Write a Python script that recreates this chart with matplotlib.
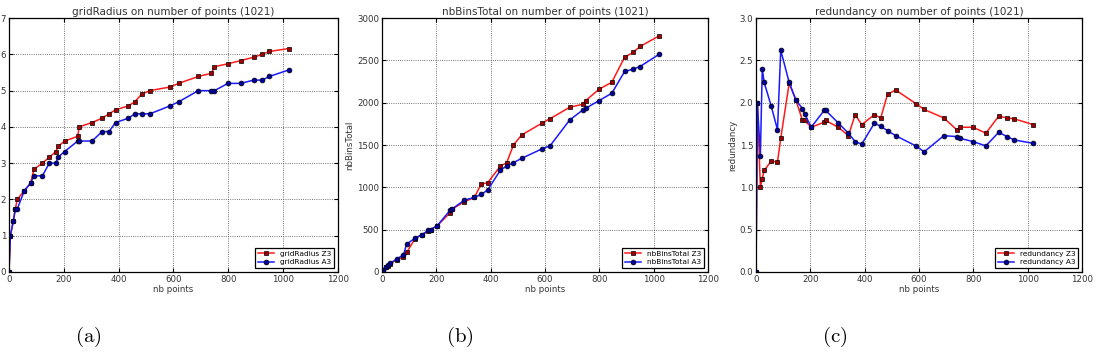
import matplotlib
matplotlib.use("Agg")
import matplotlib.pyplot as plt

plt.rcParams['mathtext.fontset'] = 'cm'

# number of points (shared by every series)
nb_points = [0, 5, 16, 23, 30, 56, 79, 91, 122, 147, 171, 179, 203, 251, 256, 303, 340,
             365, 389, 436, 459, 484, 514, 588, 619, 691, 739, 750, 799, 846, 893, 924, 950, 1021]

grid_radius_z3 = [0, 1.0, 1.41, 1.73, 2.0, 2.24, 2.45, 2.83, 3.0, 3.16, 3.32, 3.46, 3.61, 3.74,
                  4.0, 4.12, 4.24, 4.36, 4.47, 4.58, 4.69, 4.9, 5.0, 5.1, 5.2, 5.39, 5.48, 5.66,
                  5.74, 5.83, 5.92, 6.0, 6.08, 6.16]
grid_radius_a3 = [0, 1.0, 1.41, 1.73, 1.73, 2.24, 2.45, 2.65, 2.65, 3.0, 3.0, 3.16, 3.32, 3.61,
                  3.61, 3.61, 3.87, 3.87, 4.12, 4.24, 4.36, 4.36, 4.36, 4.58, 4.69, 5.0, 5.0, 5.0,
                  5.2, 5.2, 5.29, 5.29, 5.39, 5.57]

bins_z3 = [0, 20, 56, 75, 97, 146, 178, 230, 395, 440, 482, 501, 545, 700, 738, 830, 880, 1038,
           1054, 1251, 1291, 1500, 1618, 1757, 1812, 1946, 1982, 2025, 2159, 2242, 2538, 2594,
           2665, 2791]
bins_a3 = [0, 20, 56, 85, 100, 157, 200, 330, 399, 440, 493, 501, 545, 730, 738, 849, 880, 916,
           967, 1204, 1251, 1291, 1342, 1453, 1492, 1796, 1914, 1934, 2025, 2112, 2369, 2396,
           2428, 2574]

redund_z3 = [0, 2.0, 1.0, 1.1, 1.2, 1.31, 1.30, 1.58, 2.23, 2.03, 1.79, 1.79, 1.71, 1.77, 1.79,
             1.71, 1.61, 1.86, 1.74, 1.86, 1.82, 2.10, 2.15, 1.99, 1.92, 1.82, 1.68, 1.71, 1.71,
             1.64, 1.84, 1.82, 1.81, 1.74]
redund_a3 = [0, 2.0, 1.37, 2.4, 2.24, 1.96, 1.68, 2.62, 2.24, 2.03, 1.93, 1.87, 1.71, 1.91, 1.91,
             1.76, 1.64, 1.54, 1.51, 1.76, 1.72, 1.67, 1.61, 1.49, 1.42, 1.61, 1.60, 1.58, 1.54,
             1.49, 1.65, 1.60, 1.56, 1.52]

panels = [
    ("gridRadius", grid_radius_z3, grid_radius_a3, 7, range(0, 8), None, "(a)"),
    ("nbBinsTotal", bins_z3, bins_a3, 3000, range(0, 3001, 500), "nbBinsTotal", "(b)"),
    ("redundancy", redund_z3, redund_a3, 3.0, [0.0, 0.5, 1.0, 1.5, 2.0, 2.5, 3.0], "redundancy", "(c)"),
]

fig = plt.figure(figsize=(10.96, 3.55), dpi=100)
lefts = [0.0082, 0.3485, 0.6898]
widths = [0.300, 0.2975, 0.2975]

for (name, z3, a3, ymax, yt, ylab, cap), l, w in zip(panels, lefts, widths):
    ax = fig.add_axes([l, 0.234, w, 0.715])
    ax.plot(nb_points, z3, '-', color='#ff1a1a', lw=1.1, marker='s', ms=3.5,
            mfc='#a00000', mec='k', mew=0.5, label=name + " Z3")
    ax.plot(nb_points, a3, '-', color='#1a1aff', lw=1.1, marker='o', ms=3.5,
            mfc='#0000a0', mec='k', mew=0.5, label=name + " A3")
    ax.set_xlim(0, 1200)
    ax.set_ylim(0, ymax)
    ax.set_xticks(range(0, 1201, 200))
    ax.set_yticks(list(yt))
    if name == "redundancy":
        ax.set_yticklabels(["%.1f" % v for v in yt])
    ax.grid(True, color='#444444', linestyle=':', linewidth=0.6)
    ax.tick_params(direction='in', top=True, right=True, labelsize=6.2, length=3, pad=2,
                   labelcolor='#333333')
    for s in ax.spines.values():
        s.set_linewidth(0.9)
    ax.set_title(name + " on number of points (1021)", fontsize=7.5, pad=2, color='#333333')
    ax.set_xlabel("nb points", fontsize=6.2, labelpad=1, color='#333333')
    if ylab:
        ax.set_ylabel(ylab, fontsize=6.2, labelpad=2, color='#333333')
    leg = ax.legend(loc='lower right', fontsize=5.3, fancybox=False, framealpha=1,
                    handlelength=2.2, borderpad=0.4, labelspacing=0.3)
    leg.get_frame().set_edgecolor('k')
    leg.get_frame().set_linewidth(0.9)
    fig.text(l + w * 0.24, 0.05, r'$\mathrm{' + cap + '}$', fontsize=15, ha='center', va='center')

fig.savefig("out.png", dpi=100)
